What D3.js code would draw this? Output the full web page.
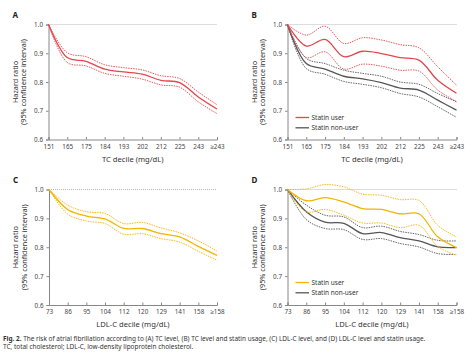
<!DOCTYPE html>
<html>
<head>
<meta charset="utf-8">
<script src="https://cdn.jsdelivr.net/npm/d3@7"></script>
<style>
body { margin: 0; background: #fff; }
svg { font-family: "Noto Sans", "Open Sans", sans-serif; }
</style>
</head>
<body>
<div id="vizholder"></div>
<script>
// decile labels
var tcTicks = ["151", "165", "175", "184", "193", "202", "212", "225", "243", "\u2265243"];
var ldlTicks = ["73", "86", "95", "104", "112", "120", "129", "141", "158", "\u2265158"];
var yTicks = [0.6, 0.7, 0.8, 0.9, 1.0];

// panel A: TC
var aMid = [1.0, 0.885, 0.872, 0.845, 0.835, 0.827, 0.806, 0.798, 0.748, 0.706];
var aHi  = [1.0, 0.902, 0.888, 0.860, 0.850, 0.842, 0.822, 0.812, 0.765, 0.721];
var aLo  = [1.0, 0.868, 0.856, 0.830, 0.820, 0.810, 0.790, 0.782, 0.731, 0.690];

// panel B: TC by statin use
var bUserMid = [1.0, 0.925, 0.948, 0.888, 0.907, 0.899, 0.885, 0.876, 0.806, 0.761];
var bUserHi  = [1.0, 0.963, 0.994, 0.934, 0.954, 0.946, 0.930, 0.919, 0.853, 0.789];
var bUserLo  = [1.0, 0.885, 0.905, 0.845, 0.862, 0.855, 0.841, 0.838, 0.772, 0.732];
var bNonMid  = [1.0, 0.864, 0.845, 0.820, 0.811, 0.798, 0.779, 0.772, 0.737, 0.702];
var bNonHi   = [1.0, 0.882, 0.864, 0.841, 0.830, 0.820, 0.800, 0.792, 0.760, 0.731];
var bNonLo   = [1.0, 0.847, 0.827, 0.802, 0.792, 0.780, 0.760, 0.748, 0.714, 0.677];

// panel C: LDL-C
var cMid = [1.0, 0.931, 0.908, 0.898, 0.865, 0.865, 0.847, 0.836, 0.803, 0.772];
var cHi  = [1.0, 0.946, 0.923, 0.917, 0.882, 0.886, 0.867, 0.850, 0.822, 0.787];
var cLo  = [1.0, 0.915, 0.891, 0.882, 0.845, 0.847, 0.830, 0.818, 0.786, 0.755];

// panel D: LDL-C by statin use
var dUserMid = [1.0, 0.961, 0.972, 0.957, 0.934, 0.931, 0.916, 0.916, 0.836, 0.799];
var dUserHi  = [1.0, 1.002, 1.017, 1.009, 0.984, 0.980, 0.965, 0.962, 0.876, 0.836];
var dUserLo  = [1.0, 0.923, 0.931, 0.911, 0.884, 0.884, 0.868, 0.876, 0.803, 0.772];
var dNonMid  = [1.0, 0.923, 0.887, 0.883, 0.847, 0.851, 0.833, 0.822, 0.801, 0.799];
var dNonHi   = [1.0, 0.946, 0.911, 0.905, 0.868, 0.873, 0.855, 0.844, 0.824, 0.822];
var dNonLo   = [1.0, 0.896, 0.865, 0.861, 0.827, 0.830, 0.813, 0.801, 0.778, 0.775];

var red = "#e2474d", gold = "#f4b400", grey = "#555555";

var svg = d3.select("#vizholder").append("svg")
	.attr("width", 474)
	.attr("height", 354);

var panels = [
	{ letter: "A", x0: 48.5, x1: 217, top: 24.5, bottom: 139.5, ticks: tcTicks, title: "TC decile (mg/dL)",
	  series: [{ color: red, mid: aMid, hi: aHi, lo: aLo }], legend: null },
	{ letter: "B", x0: 287.5, x1: 456.5, top: 24.5, bottom: 139.5, ticks: tcTicks, title: "TC decile (mg/dL)",
	  series: [{ color: grey, mid: bNonMid, hi: bNonHi, lo: bNonLo }, { color: red, mid: bUserMid, hi: bUserHi, lo: bUserLo }],
	  legend: { y: 117.5, colors: [red, grey] } },
	{ letter: "C", x0: 49, x1: 217, top: 189.5, bottom: 305, ticks: ldlTicks, title: "LDL-C decile (mg/dL)",
	  series: [{ color: gold, mid: cMid, hi: cHi, lo: cLo }], legend: null },
	{ letter: "D", x0: 287.5, x1: 456.5, top: 189.5, bottom: 305, ticks: ldlTicks, title: "LDL-C decile (mg/dL)",
	  series: [{ color: grey, mid: dNonMid, hi: dNonHi, lo: dNonLo }, { color: gold, mid: dUserMid, hi: dUserHi, lo: dUserLo }],
	  legend: { y: 282.5, colors: [gold, grey] } }
];

panels.forEach(function(p) {
	var x = d3.scalePoint().domain(p.ticks).range([p.x0, p.x1]);
	var y = d3.scaleLinear().domain([0.6, 1.0]).range([p.bottom, p.top]);
	var g = svg.append("g");

	g.append("text")
		.attr("x", p.x0 - 36)
		.attr("y", p.top - 7)
		.style("font-size", "8px")
		.style("font-weight", "bold")
		.attr("fill", "#222")
		.text(p.letter);

	// reference line at HR 1.0
	g.append("line")
		.attr("x1", p.x0).attr("x2", p.x1)
		.attr("y1", y(1)).attr("y2", y(1))
		.attr("stroke", "#aaa")
		.attr("stroke-width", 0.8)
		.attr("stroke-dasharray", "1,1");

	var yAxis = g.append("g")
		.attr("transform", "translate(" + p.x0 + ",0)")
		.call(d3.axisLeft(y).tickValues(yTicks).tickFormat(d3.format(".1f")).tickSize(2.5).tickPadding(3));
	var xAxis = g.append("g")
		.attr("transform", "translate(0," + p.bottom + ")")
		.call(d3.axisBottom(x).tickSize(-2.5).tickPadding(5));
	[yAxis, xAxis].forEach(function(a) {
		a.select(".domain").attr("stroke", "#888");
		a.selectAll(".tick line").attr("stroke", "#888");
		a.selectAll("text").style("font-size", "6.3px").attr("fill", "#444")
			.style("font-family", "'Noto Sans', sans-serif");
	});

	g.append("text")
		.attr("x", (p.x0 + p.x1) / 2)
		.attr("y", p.bottom + 22)
		.attr("text-anchor", "middle")
		.style("font-size", "7.6px")
		.attr("fill", "#333")
		.text(p.title);

	var yc = (p.top + p.bottom) / 2;
	g.append("text")
		.attr("transform", "translate(" + (p.x0 - 31) + "," + yc + ") rotate(-90)")
		.attr("text-anchor", "middle")
		.style("font-size", "7.3px")
		.attr("fill", "#333")
		.text("Hazard ratio");
	g.append("text")
		.attr("transform", "translate(" + (p.x0 - 22.5) + "," + yc + ") rotate(-90)")
		.attr("text-anchor", "middle")
		.style("font-size", "7.3px")
		.attr("fill", "#333")
		.text("(95% confidence interval)");

	var line = d3.line()
		.x(function(d, i) { return x(p.ticks[i]); })
		.y(function(d) { return y(d); })
		.curve(d3.curveCatmullRom.alpha(0.5));

	p.series.forEach(function(s) {
		[s.hi, s.lo].forEach(function(arr) {
			g.append("path")
				.attr("d", line(arr))
				.attr("fill", "none")
				.attr("stroke", s.color)
				.attr("stroke-width", 0.9)
				.attr("stroke-dasharray", "1.5,1");
		});
		g.append("path")
			.attr("d", line(s.mid))
			.attr("fill", "none")
			.attr("stroke", s.color)
			.attr("stroke-width", 1.3);
	});

	if (p.legend) {
		var names = ["Statin user", "Statin non-user"];
		names.forEach(function(n, i) {
			var ly = p.legend.y + i * 10.3;
			g.append("line")
				.attr("x1", p.x0 + 8).attr("x2", p.x0 + 21.5)
				.attr("y1", ly).attr("y2", ly)
				.attr("stroke", p.legend.colors[i])
				.attr("stroke-width", 1.3);
			g.append("text")
				.attr("x", p.x0 + 24)
				.attr("y", ly + 2.2)
				.style("font-size", "6.5px")
				.attr("fill", "#333")
				.text(n);
		});
	}
});

// caption
var cap = svg.append("text")
	.attr("x", 3)
	.attr("y", 340.5)
	.style("font-size", "6.45px")
	.attr("fill", "#333");
cap.append("tspan").style("font-weight", "bold").text("Fig. 2.");
cap.append("tspan").text(" The risk of atrial fibrillation according to (A) TC level, (B) TC level and statin usage, (C) LDL-C level, and (D) LDL-C level and statin usage.");
svg.append("text")
	.attr("x", 3)
	.attr("y", 348.5)
	.style("font-size", "6.45px")
	.attr("fill", "#333")
	.text("TC, total cholesterol; LDL-C, low-density lipoprotein cholesterol.");
</script>
</body>
</html>
